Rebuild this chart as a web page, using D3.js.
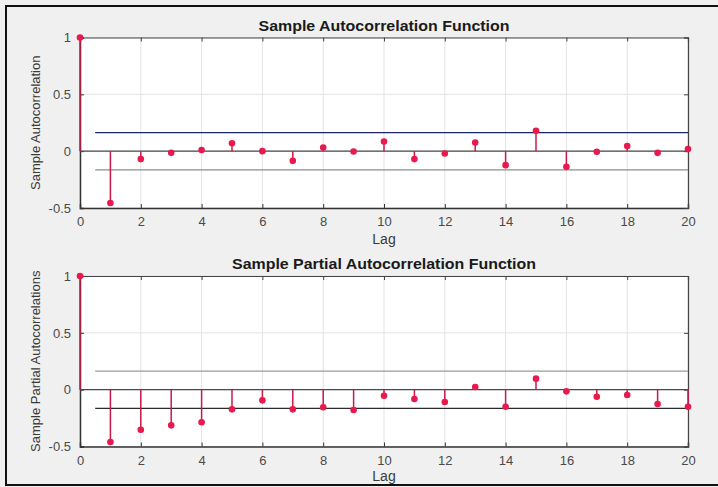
<!DOCTYPE html>
<html>
<head>
<meta charset="utf-8">
<script src="https://cdn.jsdelivr.net/npm/d3@7"></script>
<style>
html,body{margin:0;padding:0;background:#f0f0f0;}
svg{display:block;}
text{font-family:"Liberation Sans",Arial,sans-serif;}
</style>
</head>
<body>
<svg id="chart" width="718" height="487"></svg>
<script>
const lags = d3.range(0, 21);
const acfValues = [1, -0.456, -0.07, -0.015, 0.01, 0.07, 0.0, -0.085, 0.032, -0.003, 0.085,
  -0.07, -0.02, 0.076, -0.123, 0.18, -0.138, -0.006, 0.046, -0.015, 0.018];
const pacfValues = [1, -0.46, -0.352, -0.314, -0.287, -0.173, -0.094, -0.173, -0.155, -0.179, -0.053,
  -0.082, -0.108, 0.023, -0.15, 0.097, -0.015, -0.062, -0.047, -0.126, -0.15];
const confBound = [0.164, 0.164];
const xTicks = [0, 2, 4, 6, 8, 10, 12, 14, 16, 18, 20];
const yTicks = [-0.5, 0, 0.5, 1];
const yTickLabels = ["-0.5", "0", "0.5", "1"];
const titles = ["Sample Autocorrelation Function", "Sample Partial Autocorrelation Function"];
const yLabels = ["Sample Autocorrelation", "Sample Partial Autocorrelations"];
const xLabel = "Lag";

const svg = d3.select("#chart");
// outer frame
svg.append("rect").attr("x", 6).attr("y", 6).attr("width", 716).attr("height", 479)
  .attr("fill", "#f0f0f0").attr("stroke", "#111").attr("stroke-width", 2);

const panels = [
  {top: 37.5, bottom: 208, values: acfValues, title: titles[0], titleLen: 251, ylab: yLabels[0],
   upperColor: "#1c2566", lowerColor: "#8c8c8c", lagY: 36},
  {top: 276, bottom: 446.5, values: pacfValues, title: titles[1], titleLen: 304, ylab: yLabels[1],
   upperColor: "#9a9a9a", lowerColor: "#2a2a2a", lagY: 34}
];

const left = 80, right = 688;
const stemColor = "#c8194a", markerColor = "#e8194d";

panels.forEach((p, i) => {
  const x = d3.scaleLinear().domain([0, 20]).range([left, right]);
  const y = d3.scaleLinear().domain([-0.5, 1]).range([p.bottom, p.top]);
  const g = svg.append("g");

  g.append("rect").attr("x", left).attr("y", p.top).attr("width", right - left)
    .attr("height", p.bottom - p.top).attr("fill", "#ffffff");

  // grid
  g.append("g").selectAll("line.vx").data(xTicks).join("line")
    .attr("x1", d => x(d)).attr("x2", d => x(d)).attr("y1", p.top).attr("y2", p.bottom)
    .attr("stroke", "#e3e3e3").attr("stroke-width", 1);
  g.append("g").selectAll("line.hy").data(yTicks).join("line")
    .attr("x1", left).attr("x2", right).attr("y1", d => y(d)).attr("y2", d => y(d))
    .attr("stroke", "#e3e3e3").attr("stroke-width", 1);

  // axes
  const xAxis = d3.axisBottom(x).tickValues(xTicks).tickSize(-4).tickPadding(9).tickFormat(d3.format("d"));
  const gx = g.append("g").attr("transform", `translate(0,${p.bottom})`).call(xAxis);
  const yAxis = d3.axisLeft(y).tickValues(yTicks).tickSize(-4).tickPadding(9)
    .tickFormat((d, k) => yTickLabels[k]);
  const gy = g.append("g").attr("transform", `translate(${left},0)`).call(yAxis);
  [gx, gy].forEach(a => {
    a.select(".domain").attr("stroke", "#333").attr("stroke-width", 1.5);
    a.selectAll(".tick line").attr("stroke", "#333");
    a.selectAll(".tick text").attr("fill", "#4a4a4a").style("font-size", "13px")
      .style("font-family", "'Liberation Sans', Arial, sans-serif");
  });
  // top and right box lines with ticks
  const xTop = d3.axisTop(x).tickValues(xTicks).tickSize(-4).tickFormat("");
  const gt = g.append("g").attr("transform", `translate(0,${p.top})`).call(xTop);
  const yRight = d3.axisRight(y).tickValues(yTicks).tickSize(-4).tickFormat("");
  const gr = g.append("g").attr("transform", `translate(${right},0)`).call(yRight);
  [gt, gr].forEach(a => {
    a.select(".domain").attr("stroke", "#444").attr("stroke-width", 1.2);
    a.selectAll(".tick line").attr("stroke", "#444");
  });

  // zero line
  g.append("line").attr("x1", left).attr("x2", right).attr("y1", y(0)).attr("y2", y(0))
    .attr("stroke", "#4a4a4a").attr("stroke-width", 1.2);
  // confidence bounds
  g.append("line").attr("x1", x(0.5)).attr("x2", right).attr("y1", y(confBound[0])).attr("y2", y(confBound[0]))
    .attr("stroke", p.upperColor).attr("stroke-width", 1.2);
  g.append("line").attr("x1", x(0.5)).attr("x2", right).attr("y1", y(-confBound[1])).attr("y2", y(-confBound[1]))
    .attr("stroke", p.lowerColor).attr("stroke-width", 1.2);

  // stems
  g.append("g").selectAll("line").data(lags).join("line")
    .attr("x1", d => x(d)).attr("x2", d => x(d))
    .attr("y1", y(0)).attr("y2", d => y(p.values[d]))
    .attr("stroke", stemColor).attr("stroke-width", 1.5);
  g.append("g").selectAll("circle").data(lags).join("circle")
    .attr("cx", d => x(d)).attr("cy", d => y(p.values[d])).attr("r", 3.3)
    .attr("fill", markerColor);

  // title
  g.append("text").attr("x", (left + right) / 2).attr("y", p.top - 7)
    .attr("text-anchor", "middle").style("font-size", "14px").style("font-weight", "bold")
    .attr("textLength", p.titleLen).attr("lengthAdjust", "spacingAndGlyphs")
    .attr("fill", "#1a1a1a").text(p.title);
  // x label
  g.append("text").attr("x", (left + right) / 2).attr("y", p.bottom + p.lagY)
    .attr("text-anchor", "middle").style("font-size", "14px").attr("fill", "#3a3a3a").text(xLabel);
  // y label
  g.append("text").attr("transform", `translate(40,${(p.top + p.bottom) / 2}) rotate(-90)`)
    .attr("text-anchor", "middle").style("font-size", "13px").attr("fill", "#3a3a3a").text(p.ylab);
});
</script>
</body>
</html>
